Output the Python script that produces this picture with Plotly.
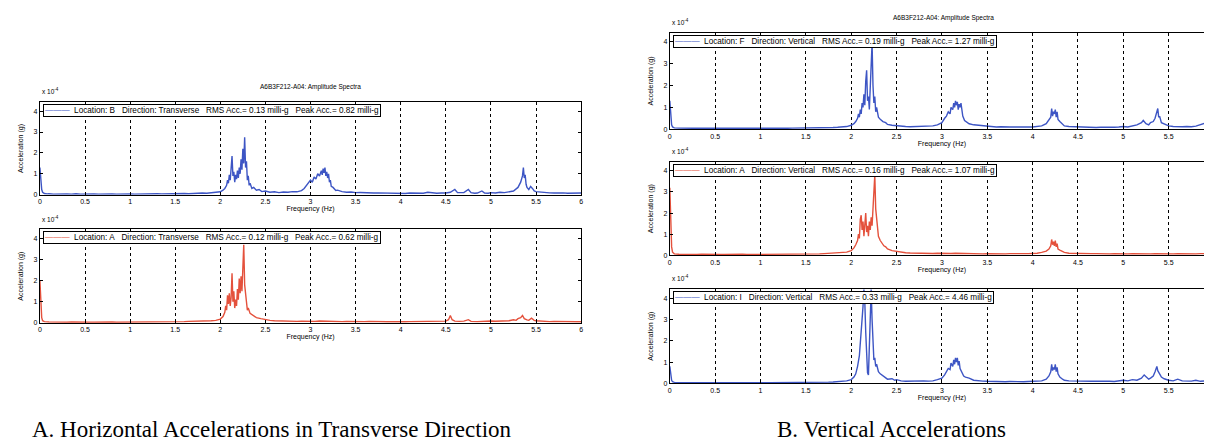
import plotly.graph_objects as go

# ---------------- data (amplitude in units of 1e-4 g, frequency in Hz) ----------------
spec_B_trans = [
(0.00,1.30),(0.01,0.60),(0.02,0.25),(0.03,0.12),(0.05,0.06),(0.08,0.04),(0.10,0.05),(0.15,0.03),(0.20,0.04),(0.25,0.03),
(0.30,0.04),(0.35,0.03),(0.40,0.05),(0.45,0.03),(0.50,0.04),(0.55,0.03),(0.60,0.04),(0.65,0.03),(0.70,0.04),(0.75,0.03),
(0.80,0.04),(0.85,0.03),(0.90,0.04),(0.95,0.03),(1.00,0.04),(1.05,0.03),(1.10,0.04),(1.15,0.03),(1.20,0.04),(1.25,0.04),
(1.30,0.05),(1.35,0.04),(1.40,0.05),(1.45,0.04),(1.50,0.05),(1.55,0.05),(1.60,0.06),(1.65,0.05),(1.70,0.07),(1.75,0.06),
(1.80,0.08),(1.85,0.07),(1.90,0.09),(1.95,0.11),(2.00,0.14),(2.03,0.22),(2.05,0.30),(2.07,0.45),(2.08,0.70),(2.09,0.55),
(2.10,0.95),(2.11,0.70),(2.12,1.20),(2.13,1.85),(2.14,0.90),(2.15,1.10),(2.16,0.60),(2.17,0.95),(2.18,0.75),(2.19,1.15),
(2.20,0.80),(2.21,1.30),(2.22,1.00),(2.23,1.70),(2.24,1.20),(2.25,2.20),(2.26,1.50),(2.27,2.75),(2.28,1.30),(2.29,1.60),
(2.30,0.70),(2.31,0.90),(2.32,0.45),(2.33,0.55),(2.35,0.30),(2.37,0.35),(2.40,0.22),(2.43,0.25),(2.46,0.15),(2.50,0.18),
(2.55,0.12),(2.60,0.14),(2.65,0.10),(2.70,0.13),(2.75,0.12),(2.80,0.15),(2.85,0.14),(2.90,0.20),(2.93,0.30),(2.96,0.45),
(2.98,0.55),(3.00,0.70),(3.02,0.60),(3.04,0.85),(3.06,0.75),(3.08,1.00),(3.10,0.90),(3.12,1.15),(3.13,0.95),(3.14,1.25),
(3.15,1.05),(3.16,1.30),(3.17,0.90),(3.18,1.10),(3.19,0.80),(3.20,1.00),(3.21,0.60),(3.22,0.70),(3.23,0.40),(3.25,0.35),
(3.28,0.20),(3.30,0.22),(3.35,0.15),(3.40,0.12),(3.45,0.13),(3.50,0.10),(3.55,0.11),(3.60,0.09),(3.65,0.10),(3.70,0.08),
(3.75,0.09),(3.80,0.08),(3.85,0.07),(3.90,0.08),(3.95,0.06),(4.00,0.07),(4.05,0.06),(4.10,0.08),(4.15,0.07),(4.20,0.08),
(4.25,0.07),(4.30,0.12),(4.35,0.08),(4.40,0.07),(4.45,0.08),(4.50,0.08),(4.55,0.12),(4.60,0.25),(4.63,0.10),(4.67,0.08),
(4.70,0.10),(4.75,0.25),(4.78,0.10),(4.82,0.07),(4.85,0.08),(4.90,0.18),(4.93,0.08),(4.97,0.07),(5.00,0.10),(5.05,0.08),
(5.10,0.12),(5.15,0.10),(5.20,0.14),(5.25,0.18),(5.30,0.35),(5.33,0.60),(5.35,0.90),(5.36,1.30),(5.37,0.80),(5.38,0.95),
(5.39,0.50),(5.40,0.35),(5.42,0.25),(5.44,0.40),(5.46,0.30),(5.48,0.18),(5.50,0.15),(5.55,0.12),(5.60,0.10),(5.65,0.09),
(5.70,0.08),(5.75,0.09),(5.80,0.09),(5.85,0.07),(5.90,0.07),(5.95,0.08),(6.00,0.08)]

spec_A_trans = [
(0.00,2.00),(0.01,0.80),(0.02,0.25),(0.03,0.10),(0.05,0.06),(0.10,0.04),(0.15,0.03),(0.20,0.04),(0.25,0.03),(0.30,0.03),
(0.35,0.04),(0.40,0.03),(0.45,0.03),(0.50,0.04),(0.55,0.03),(0.60,0.03),(0.65,0.04),(0.70,0.03),(0.75,0.03),(0.80,0.04),
(0.85,0.03),(0.90,0.03),(0.95,0.04),(1.00,0.03),(1.05,0.04),(1.10,0.03),(1.15,0.04),(1.20,0.03),(1.25,0.04),(1.30,0.04),
(1.35,0.03),(1.40,0.04),(1.45,0.05),(1.50,0.05),(1.55,0.06),(1.60,0.06),(1.65,0.07),(1.70,0.07),(1.75,0.08),(1.80,0.08),
(1.85,0.09),(1.90,0.10),(1.95,0.12),(2.00,0.18),(2.03,0.30),(2.05,0.50),(2.06,0.80),(2.07,0.60),(2.08,1.30),(2.09,0.90),
(2.10,1.40),(2.11,0.80),(2.12,1.20),(2.13,2.35),(2.14,1.00),(2.15,1.50),(2.16,0.70),(2.17,1.10),(2.18,0.80),(2.19,1.60),
(2.20,1.10),(2.21,2.10),(2.22,1.40),(2.23,2.20),(2.24,1.50),(2.25,3.10),(2.26,3.70),(2.27,1.80),(2.28,1.20),(2.29,1.00),
(2.30,0.60),(2.31,0.70),(2.33,0.45),(2.35,0.40),(2.38,0.30),(2.40,0.25),(2.45,0.20),(2.50,0.15),(2.55,0.12),(2.60,0.10),
(2.65,0.09),(2.70,0.08),(2.75,0.09),(2.80,0.08),(2.85,0.07),(2.90,0.08),(2.95,0.07),(3.00,0.08),(3.05,0.07),(3.10,0.09),
(3.15,0.08),(3.20,0.09),(3.25,0.07),(3.30,0.07),(3.35,0.06),(3.40,0.07),(3.45,0.06),(3.50,0.07),(3.55,0.06),(3.60,0.06),
(3.65,0.07),(3.70,0.06),(3.75,0.05),(3.80,0.06),(3.85,0.05),(3.90,0.06),(3.95,0.05),(4.00,0.06),(4.05,0.05),(4.10,0.06),
(4.15,0.06),(4.20,0.07),(4.25,0.06),(4.30,0.07),(4.35,0.06),(4.40,0.07),(4.45,0.07),(4.50,0.08),(4.53,0.15),(4.55,0.35),
(4.57,0.15),(4.60,0.08),(4.65,0.07),(4.70,0.08),(4.75,0.15),(4.78,0.07),(4.85,0.06),(4.90,0.08),(4.95,0.07),(5.00,0.09),
(5.05,0.08),(5.10,0.08),(5.15,0.09),(5.20,0.10),(5.25,0.15),(5.28,0.12),(5.30,0.20),(5.33,0.25),(5.35,0.35),(5.37,0.20),
(5.40,0.14),(5.42,0.12),(5.45,0.22),(5.48,0.12),(5.50,0.10),(5.55,0.08),(5.60,0.07),(5.65,0.06),(5.70,0.07),(5.75,0.06),
(5.80,0.06),(5.85,0.05),(5.90,0.06),(5.95,0.05),(6.00,0.05)]

spec_F_vert = [
(0.00,1.30),(0.01,0.50),(0.02,0.20),(0.03,0.10),(0.05,0.06),(0.10,0.05),(0.15,0.04),(0.20,0.05),(0.25,0.04),(0.30,0.05),
(0.35,0.04),(0.40,0.05),(0.45,0.04),(0.50,0.05),(0.55,0.04),(0.60,0.05),(0.65,0.04),(0.70,0.05),(0.75,0.04),(0.80,0.05),
(0.85,0.04),(0.90,0.05),(0.95,0.04),(1.00,0.05),(1.05,0.04),(1.10,0.05),(1.15,0.04),(1.20,0.05),(1.25,0.05),(1.30,0.04),
(1.35,0.05),(1.40,0.05),(1.45,0.06),(1.50,0.05),(1.55,0.06),(1.60,0.06),(1.65,0.07),(1.70,0.07),(1.75,0.08),(1.80,0.08),
(1.85,0.09),(1.90,0.10),(1.95,0.12),(2.00,0.18),(2.03,0.25),(2.05,0.35),(2.07,0.50),(2.08,0.70),(2.09,0.55),(2.10,0.90),
(2.11,0.70),(2.12,1.20),(2.13,1.00),(2.14,1.60),(2.15,1.10),(2.16,2.20),(2.17,2.70),(2.18,1.30),(2.19,1.50),(2.20,0.90),
(2.21,1.80),(2.22,2.60),(2.23,3.95),(2.24,2.00),(2.25,1.20),(2.26,1.50),(2.27,0.80),(2.28,1.00),(2.30,0.55),(2.32,0.45),
(2.35,0.35),(2.38,0.30),(2.40,0.22),(2.45,0.18),(2.50,0.15),(2.55,0.13),(2.60,0.12),(2.65,0.11),(2.70,0.12),(2.75,0.11),
(2.80,0.14),(2.85,0.13),(2.90,0.15),(2.95,0.20),(3.00,0.30),(3.03,0.50),(3.05,0.60),(3.07,0.80),(3.09,0.70),(3.10,1.00),
(3.12,0.90),(3.13,1.20),(3.14,1.00),(3.15,1.30),(3.16,1.10),(3.17,1.25),(3.18,0.90),(3.19,1.15),(3.20,1.00),(3.21,1.20),
(3.22,0.70),(3.23,0.60),(3.25,0.40),(3.28,0.30),(3.30,0.25),(3.35,0.20),(3.40,0.18),(3.45,0.14),(3.50,0.12),(3.55,0.11),
(3.60,0.10),(3.65,0.11),(3.70,0.12),(3.75,0.10),(3.80,0.10),(3.85,0.09),(3.90,0.09),(3.95,0.10),(4.00,0.10),(4.05,0.12),
(4.10,0.15),(4.15,0.25),(4.18,0.40),(4.20,0.55),(4.21,0.95),(4.22,0.60),(4.23,0.80),(4.24,0.70),(4.25,0.90),(4.26,0.55),
(4.27,0.80),(4.28,0.45),(4.30,0.35),(4.33,0.20),(4.35,0.15),(4.40,0.12),(4.45,0.11),(4.50,0.10),(4.55,0.09),(4.60,0.09),
(4.65,0.08),(4.70,0.08),(4.75,0.09),(4.80,0.08),(4.85,0.09),(4.90,0.09),(4.95,0.10),(5.00,0.12),(5.05,0.10),(5.10,0.15),
(5.15,0.20),(5.20,0.30),(5.22,0.40),(5.25,0.25),(5.28,0.20),(5.30,0.30),(5.33,0.35),(5.35,0.50),(5.37,0.75),(5.38,0.95),
(5.39,0.55),(5.40,0.60),(5.42,0.30),(5.45,0.25),(5.50,0.15),(5.55,0.12),(5.60,0.10),(5.65,0.11),(5.70,0.12),(5.75,0.11),
(5.80,0.14),(5.85,0.20),(5.90,0.28),(5.95,0.15),(6.00,0.18)]

spec_A_vert = [
(0.00,3.20),(0.01,1.20),(0.02,0.40),(0.03,0.15),(0.05,0.07),(0.10,0.05),(0.15,0.04),(0.20,0.05),(0.25,0.04),(0.30,0.04),
(0.35,0.05),(0.40,0.04),(0.45,0.04),(0.50,0.05),(0.55,0.04),(0.60,0.04),(0.65,0.05),(0.70,0.04),(0.75,0.04),(0.80,0.05),
(0.85,0.04),(0.90,0.04),(0.95,0.05),(1.00,0.04),(1.05,0.05),(1.10,0.04),(1.15,0.05),(1.20,0.04),(1.25,0.05),(1.30,0.05),
(1.35,0.04),(1.40,0.05),(1.45,0.05),(1.50,0.06),(1.55,0.06),(1.60,0.06),(1.65,0.07),(1.70,0.08),(1.75,0.09),(1.80,0.10),
(1.85,0.11),(1.90,0.12),(1.95,0.15),(2.00,0.22),(2.03,0.35),(2.05,0.50),(2.07,0.70),(2.08,1.00),(2.09,0.80),(2.10,1.70),
(2.11,1.90),(2.12,1.20),(2.13,1.60),(2.14,0.90),(2.15,1.30),(2.16,2.00),(2.17,1.10),(2.18,1.40),(2.19,0.90),(2.20,1.60),
(2.21,1.20),(2.22,1.80),(2.23,1.40),(2.24,2.40),(2.25,3.20),(2.26,3.80),(2.27,2.20),(2.28,1.60),(2.29,1.10),(2.30,0.90),
(2.32,0.70),(2.34,0.55),(2.36,0.45),(2.38,0.40),(2.40,0.30),(2.45,0.22),(2.50,0.18),(2.55,0.15),(2.60,0.12),(2.65,0.11),
(2.70,0.10),(2.75,0.10),(2.80,0.09),(2.85,0.10),(2.90,0.09),(2.95,0.10),(3.00,0.09),(3.05,0.10),(3.10,0.09),(3.15,0.10),
(3.20,0.09),(3.25,0.08),(3.30,0.09),(3.35,0.08),(3.40,0.08),(3.45,0.07),(3.50,0.08),(3.55,0.07),(3.60,0.08),(3.65,0.07),
(3.70,0.07),(3.75,0.08),(3.80,0.07),(3.85,0.07),(3.90,0.08),(3.95,0.08),(4.00,0.08),(4.05,0.10),(4.10,0.14),(4.15,0.20),
(4.18,0.30),(4.20,0.45),(4.21,0.75),(4.22,0.50),(4.23,0.65),(4.24,0.45),(4.25,0.70),(4.26,0.40),(4.27,0.55),(4.28,0.30),
(4.30,0.25),(4.33,0.18),(4.35,0.14),(4.40,0.10),(4.45,0.09),(4.50,0.09),(4.55,0.08),(4.60,0.09),(4.65,0.08),(4.70,0.08),
(4.75,0.07),(4.80,0.08),(4.85,0.07),(4.90,0.08),(4.95,0.07),(5.00,0.08),(5.05,0.07),(5.10,0.08),(5.15,0.07),(5.20,0.08),
(5.25,0.08),(5.30,0.07),(5.35,0.08),(5.40,0.07),(5.45,0.08),(5.50,0.07),(5.55,0.07),(5.60,0.08),(5.65,0.07),(5.70,0.07),
(5.75,0.08),(5.80,0.07),(5.85,0.08),(5.90,0.07),(5.95,0.08),(6.00,0.08)]

spec_I_vert = [
(0.00,0.80),(0.01,0.35),(0.02,0.15),(0.03,0.08),(0.05,0.05),(0.10,0.04),(0.15,0.03),(0.20,0.04),(0.25,0.03),(0.30,0.04),
(0.35,0.03),(0.40,0.04),(0.45,0.03),(0.50,0.04),(0.55,0.03),(0.60,0.04),(0.65,0.03),(0.70,0.04),(0.75,0.03),(0.80,0.04),
(0.85,0.03),(0.90,0.04),(0.95,0.03),(1.00,0.04),(1.05,0.03),(1.10,0.04),(1.15,0.04),(1.20,0.03),(1.25,0.04),(1.30,0.04),
(1.35,0.04),(1.40,0.05),(1.45,0.04),(1.50,0.05),(1.55,0.05),(1.60,0.05),(1.65,0.06),(1.70,0.06),(1.75,0.06),(1.80,0.07),
(1.85,0.08),(1.90,0.10),(1.95,0.12),(2.00,0.18),(2.03,0.30),(2.05,0.45),(2.07,0.80),(2.09,1.30),(2.10,1.80),(2.11,2.40),
(2.12,3.00),(2.13,3.60),(2.14,4.40),(2.15,3.80),(2.16,2.40),(2.17,1.50),(2.18,0.50),(2.19,0.40),(2.20,1.60),(2.21,3.20),
(2.22,4.40),(2.23,3.00),(2.24,1.80),(2.25,1.10),(2.26,1.20),(2.27,0.80),(2.28,0.90),(2.30,0.55),(2.32,0.45),(2.35,0.35),
(2.38,0.25),(2.40,0.20),(2.45,0.22),(2.48,0.15),(2.50,0.18),(2.55,0.12),(2.60,0.10),(2.65,0.11),(2.70,0.10),(2.75,0.11),
(2.80,0.12),(2.85,0.11),(2.90,0.12),(2.95,0.18),(3.00,0.25),(3.03,0.40),(3.05,0.55),(3.07,0.70),(3.09,0.65),(3.10,0.95),
(3.12,0.80),(3.13,1.10),(3.14,0.90),(3.15,1.20),(3.16,1.00),(3.17,1.20),(3.18,0.85),(3.19,1.05),(3.20,0.70),(3.22,0.50),
(3.24,0.35),(3.26,0.30),(3.30,0.25),(3.35,0.15),(3.40,0.12),(3.45,0.11),(3.50,0.10),(3.55,0.09),(3.60,0.09),(3.65,0.08),
(3.70,0.08),(3.75,0.09),(3.80,0.08),(3.85,0.08),(3.90,0.08),(3.95,0.09),(4.00,0.10),(4.05,0.11),(4.10,0.12),(4.15,0.20),
(4.18,0.35),(4.20,0.55),(4.21,0.90),(4.22,0.60),(4.23,0.75),(4.24,0.65),(4.25,0.90),(4.26,0.55),(4.27,0.75),(4.28,0.45),
(4.30,0.30),(4.33,0.20),(4.35,0.15),(4.40,0.12),(4.45,0.11),(4.50,0.10),(4.55,0.09),(4.60,0.09),(4.65,0.10),(4.70,0.10),
(4.75,0.11),(4.80,0.12),(4.85,0.10),(4.90,0.09),(4.95,0.11),(5.00,0.15),(5.05,0.12),(5.10,0.18),(5.15,0.15),(5.20,0.25),
(5.23,0.40),(5.25,0.30),(5.28,0.20),(5.30,0.25),(5.33,0.35),(5.35,0.55),(5.37,0.80),(5.38,0.60),(5.40,0.45),(5.42,0.30),
(5.45,0.22),(5.50,0.15),(5.55,0.12),(5.60,0.20),(5.65,0.12),(5.70,0.10),(5.75,0.11),(5.80,0.15),(5.85,0.10),(5.90,0.12),
(5.95,0.10),(6.00,0.10)]

legend_texts = [
    "Location: B   Direction: Transverse   RMS Acc.= 0.13 milli-g   Peak Acc.= 0.82 milli-g",
    "Location: A   Direction: Transverse   RMS Acc.= 0.12 milli-g   Peak Acc.= 0.62 milli-g",
    "Location: F   Direction: Vertical   RMS Acc.= 0.19 milli-g   Peak Acc.= 1.27 milli-g",
    "Location: A   Direction: Vertical   RMS Acc.= 0.16 milli-g   Peak Acc.= 1.07 milli-g",
    "Location: I   Direction: Vertical   RMS Acc.= 0.33 milli-g   Peak Acc.= 4.46 milli-g",
]
series = [spec_B_trans, spec_A_trans, spec_F_vert, spec_A_vert, spec_I_vert]
x_ticks = [0, 0.5, 1, 1.5, 2, 2.5, 3, 3.5, 4, 4.5, 5, 5.5, 6]
x_tick_labels = ["0", "0.5", "1", "1.5", "2", "2.5", "3", "3.5", "4", "4.5", "5", "5.5", "6"]
y_ticks = [0, 1, 2, 3, 4]
panel_title = "A6B3F212-A04: Amplitude Spectra"
caption_A = "A. Horizontal Accelerations in Transverse Direction"
caption_B = "B. Vertical Accelerations"

# ---------------- styling / layout ----------------
W, H = 1212, 445
BLUE = "#3d55c4"
RED = "#e4513c"
colors = [BLUE, RED, BLUE, RED, BLUE]
# pixel boxes: (x_left, x_right, y_top, y_bottom)
boxes = [
    (30, 573, 95, 188),
    (30, 573, 223, 317),
    (662, 1208, 25, 122),
    (662, 1208, 155, 249),
    (662, 1208, 283, 378),
]
YMAX = 4.42
SANS = "Liberation Sans, Arial, sans-serif"
SERIF = "Liberation Serif, Times New Roman, serif"

fig = go.Figure()
annotations = []

for i, (pts, col, box, leg) in enumerate(zip(series, colors, boxes, legend_texts)):
    n = "" if i == 0 else str(i + 1)
    fx = [p[0] for p in pts]
    fy = [p[1] for p in pts]
    fig.add_trace(go.Scatter(x=fx, y=fy, mode="lines", line=dict(color=col, width=1.4),
                             xaxis="x" + n, yaxis="y" + n, showlegend=False, hoverinfo="skip"))
    xl, xr, yt, yb = box
    common = dict(showline=True, linecolor="black", linewidth=1, mirror="ticks",
                  ticks="inside", ticklen=3, tickcolor="black", zeroline=False,
                  tickfont=dict(size=7, family=SANS, color="black"))
    fig.layout["xaxis" + n] = dict(
        domain=[xl / W, xr / W], anchor="y" + n, range=[0, 6],
        tickvals=x_ticks, ticktext=x_tick_labels,
        showgrid=True, gridcolor="black", griddash="dot", gridwidth=1,
        title=dict(text="Frequency (Hz)", font=dict(size=7, family=SANS, color="black"), standoff=1),
        **common)
    fig.layout["yaxis" + n] = dict(
        domain=[1 - yb / H, 1 - yt / H], anchor="x" + n, range=[0, YMAX],
        tickvals=y_ticks, showgrid=False,
        title=dict(text="Acceleration (g)", font=dict(size=7, family=SANS, color="black"), standoff=9),
        **common)
    # multiplier label
    annotations.append(dict(x=xl / W, y=1 - (yt - 5) / H, xref="paper", yref="paper",
                            xanchor="left", yanchor="bottom", showarrow=False,
                            text="x 10<sup>-4</sup>", font=dict(size=6.5, family=SANS, color="black")))
    # legend box
    leg_html = "<span style='color:%s'>———</span>  %s" % (col, leg.replace("   ", "&nbsp;&nbsp;&nbsp;"))
    annotations.append(dict(x=(xl + 3) / W, y=1 - (yt + 2) / H, xref="paper", yref="paper",
                            xanchor="left", yanchor="top", showarrow=False, align="left",
                            text=leg_html, font=dict(size=8.2, family=SANS, color="black"),
                            bordercolor="black", borderwidth=1, borderpad=1, bgcolor="white"))

# panel titles
annotations.append(dict(x=301.5 / W, y=1 - 86 / H, xref="paper", yref="paper", showarrow=False,
                        xanchor="center", yanchor="bottom",
                        text=panel_title, font=dict(size=6.5, family=SANS, color="black")))
annotations.append(dict(x=937 / W, y=1 - 16 / H, xref="paper", yref="paper", showarrow=False,
                        xanchor="center", yanchor="bottom",
                        text=panel_title, font=dict(size=6.5, family=SANS, color="black")))
# captions
annotations.append(dict(x=263 / W, y=1 - 424 / H, xref="paper", yref="paper", showarrow=False,
                        xanchor="center", yanchor="middle",
                        text=caption_A, font=dict(size=23, family=SERIF, color="black")))
annotations.append(dict(x=884 / W, y=1 - 424 / H, xref="paper", yref="paper", showarrow=False,
                        xanchor="center", yanchor="middle",
                        text=caption_B, font=dict(size=23, family=SERIF, color="black")))

fig.update_layout(width=W, height=H, margin=dict(l=0, r=0, t=0, b=0),
                  paper_bgcolor="white", plot_bgcolor="white",
                  annotations=annotations, showlegend=False)

fig.write_html("out.html")
